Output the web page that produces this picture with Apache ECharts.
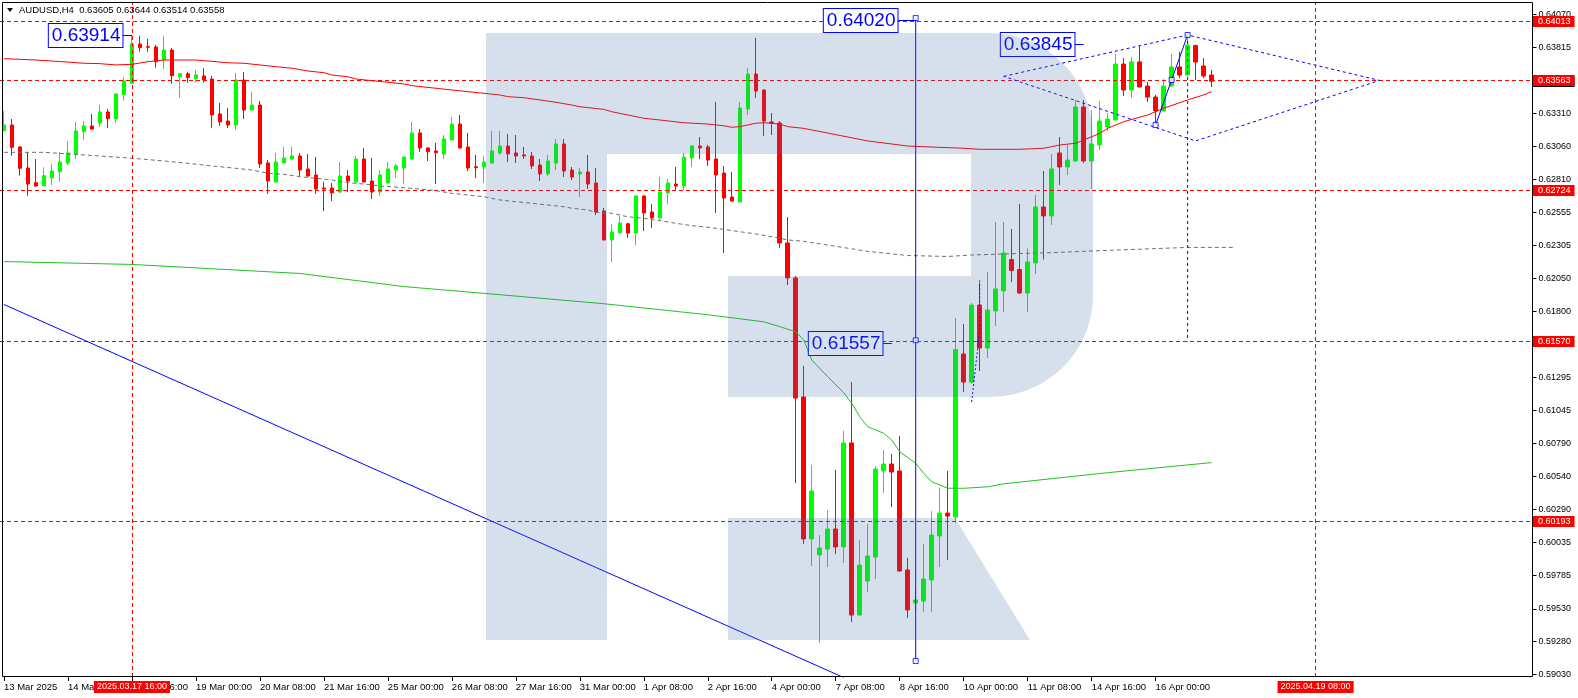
<!DOCTYPE html>
<html>
<head>
<meta charset="utf-8">
<script src="https://cdn.jsdelivr.net/npm/echarts@6/dist/echarts.min.js"></script>
<style>html,body{margin:0;padding:0;background:#fff;}#c{width:1578px;height:698px;}</style>
</head>
<body>
<div id="c"></div>
<script>
// ---------------- data ----------------
const symbolTitle = 'AUDUSD,H4';
const headerValues = ['0.63605', '0.63644', '0.63514', '0.63558'];

const tradingDays = ['2025-03-13','2025-03-14','2025-03-17','2025-03-18','2025-03-19','2025-03-20','2025-03-21',
  '2025-03-24','2025-03-25','2025-03-26','2025-03-27','2025-03-28','2025-03-31','2025-04-01','2025-04-02',
  '2025-04-03','2025-04-04','2025-04-07','2025-04-08','2025-04-09','2025-04-10','2025-04-11','2025-04-14',
  '2025-04-15','2025-04-16','2025-04-17'];
const barHours = [0, 4, 8, 12, 16, 20];

const open = [
0.63180,0.63224,0.63056,0.62895,0.62783,0.62760,0.62819,0.62867,0.62934,0.63005,
0.63173,0.63216,0.63239,0.63323,0.63270,0.63455,0.63542,0.63842,0.63822,0.63819,
0.63722,0.63796,0.63593,0.63615,0.63577,0.63598,0.63575,0.63308,0.63254,0.63224,
0.63567,0.63338,0.63376,0.62934,0.62788,0.62934,0.62964,0.62987,0.62888,0.62842,
0.62743,0.62743,0.62712,0.62834,0.62788,0.62964,0.62796,0.62712,0.62781,0.62880,
0.62895,0.62964,0.63163,0.63048,0.63025,0.63002,0.63109,0.63231,0.63056,0.62905,
0.62903,0.62934,0.63010,0.63063,0.63010,0.62995,0.62987,0.62918,0.62850,0.62934,
0.63079,0.62880,0.62850,0.62865,0.62781,0.62567,0.62346,0.62399,0.62470,0.62399,
0.62682,0.62559,0.62514,0.62705,0.62773,0.62758,0.62972,0.63063,0.63056,0.62964,
0.62857,0.62674,0.62636,0.63346,0.63613,0.63491,0.63247,0.63239,0.62323,0.62056,
0.61147,0.60063,0.59941,0.59986,0.60139,0.60002,0.60796,0.59482,0.59742,0.59925,
0.60582,0.60635,0.60582,0.59826,0.59574,0.59589,0.59750,0.60086,0.60261,0.60231,
0.61475,0.61261,0.61849,0.61521,0.61804,0.61957,0.62196,0.62120,0.61941,0.62170,
0.62598,0.62529,0.63010,0.62903,0.62949,0.63361,0.62949,0.63071,0.63208,0.63262,
0.63689,0.63491,0.63705,0.63521,0.63437,0.63331,0.63521,0.63667,0.63605,0.63830,
0.63674,0.63605];
const high = [
0.63331,0.63269,0.63063,0.63015,0.62964,0.62901,0.62926,0.63018,0.63102,0.63247,
0.63254,0.63308,0.63379,0.63346,0.63468,0.63590,0.63914,0.63903,0.63880,0.63834,
0.63903,0.63812,0.63620,0.63631,0.63644,0.63657,0.63598,0.63392,0.63353,0.63621,
0.63628,0.63476,0.63407,0.62956,0.63010,0.63056,0.63056,0.63010,0.63002,0.62979,
0.62789,0.62781,0.62941,0.62880,0.62987,0.63048,0.62972,0.62880,0.62941,0.62926,
0.62987,0.63247,0.63193,0.63056,0.63086,0.63147,0.63285,0.63300,0.63163,0.62995,
0.62987,0.63178,0.63178,0.63155,0.63147,0.63056,0.63018,0.62964,0.62995,0.63117,
0.63117,0.62903,0.62895,0.62995,0.62895,0.62590,0.62468,0.62529,0.62478,0.62685,
0.62685,0.62621,0.62827,0.62811,0.62903,0.63010,0.63071,0.63132,0.63071,0.63399,
0.62911,0.62865,0.63399,0.63659,0.63888,0.63494,0.63315,0.63254,0.62521,0.62071,
0.61384,0.60628,0.60093,0.60284,0.60590,0.60889,0.61261,0.60055,0.60177,0.60620,
0.60742,0.60712,0.60849,0.59918,0.59673,0.60025,0.60276,0.60456,0.60582,0.61750,
0.61704,0.61865,0.62017,0.62101,0.62483,0.62483,0.62430,0.62621,0.62285,0.62689,
0.62872,0.63002,0.63132,0.63071,0.63415,0.63415,0.63338,0.63407,0.63315,0.63766,
0.63735,0.63743,0.63827,0.63552,0.63453,0.63575,0.63766,0.63781,0.63911,0.63838,
0.63735,0.63644];
const low = [
0.63175,0.62989,0.62837,0.62684,0.62753,0.62753,0.62766,0.62791,0.62918,0.62964,
0.63109,0.63186,0.63208,0.63201,0.63239,0.63409,0.63535,0.63783,0.63783,0.63661,
0.63651,0.63539,0.63432,0.63547,0.63547,0.63547,0.63203,0.63216,0.63201,0.63186,
0.63269,0.63331,0.62895,0.62697,0.62785,0.62926,0.62956,0.62834,0.62827,0.62697,
0.62567,0.62643,0.62705,0.62712,0.62785,0.62785,0.62659,0.62682,0.62773,0.62819,
0.62773,0.62956,0.63018,0.62949,0.62773,0.62964,0.63105,0.63044,0.62872,0.62819,
0.62781,0.62926,0.62995,0.62941,0.62934,0.62964,0.62888,0.62796,0.62834,0.62880,
0.62827,0.62804,0.62674,0.62735,0.62536,0.62342,0.62178,0.62395,0.62361,0.62307,
0.62414,0.62437,0.62498,0.62621,0.62727,0.62727,0.62903,0.62964,0.62911,0.62552,
0.62246,0.62636,0.62633,0.63300,0.63430,0.63140,0.63147,0.62285,0.62002,0.60490,
0.60025,0.59857,0.59269,0.59849,0.59948,0.59880,0.59429,0.59478,0.59658,0.59757,
0.60414,0.60307,0.59814,0.59460,0.59505,0.59505,0.59505,0.59849,0.59902,0.60185,
0.61185,0.61250,0.61345,0.61445,0.61689,0.61794,0.62025,0.61933,0.61796,0.62086,
0.62196,0.62460,0.62766,0.62842,0.62945,0.62934,0.62735,0.63033,0.63178,0.63258,
0.63445,0.63430,0.63510,0.63399,0.63224,0.63327,0.63518,0.63582,0.63601,0.63567,
0.63582,0.63514];
const close = [
0.63224,0.63053,0.62893,0.62773,0.62758,0.62837,0.62872,0.62941,0.63010,0.63178,
0.63216,0.63193,0.63323,0.63272,0.63460,0.63560,0.63842,0.63814,0.63817,0.63707,
0.63796,0.63600,0.63615,0.63585,0.63605,0.63567,0.63300,0.63247,0.63224,0.63567,
0.63338,0.63376,0.62926,0.62796,0.62941,0.62972,0.62987,0.62880,0.62834,0.62735,
0.62735,0.62705,0.62834,0.62796,0.62964,0.62788,0.62712,0.62842,0.62888,0.62911,
0.62979,0.63163,0.63048,0.63020,0.63012,0.63117,0.63231,0.63048,0.62895,0.62898,
0.62941,0.63025,0.63063,0.63002,0.62987,0.62987,0.62911,0.62850,0.62949,0.63079,
0.62872,0.62827,0.62865,0.62773,0.62559,0.62346,0.62407,0.62475,0.62399,0.62682,
0.62552,0.62514,0.62712,0.62781,0.62758,0.62979,0.63063,0.63048,0.62956,0.62842,
0.62666,0.62643,0.63353,0.63613,0.63483,0.63254,0.63239,0.62323,0.62056,0.61139,
0.60063,0.60429,0.59994,0.60139,0.60002,0.60796,0.59482,0.59864,0.59933,0.60597,
0.60635,0.60574,0.59818,0.59521,0.59597,0.59757,0.60093,0.60261,0.60238,0.61509,
0.61261,0.61849,0.61521,0.61811,0.61972,0.62246,0.62112,0.61941,0.62178,0.62598,
0.62529,0.62888,0.62903,0.62956,0.63361,0.62949,0.63079,0.63254,0.63269,0.63689,
0.63491,0.63705,0.63514,0.63437,0.63331,0.63521,0.63667,0.63605,0.63834,0.63705,
0.63598,0.63558];

// moving averages: [bar index, price]
const maRed = [[0,0.63730],[2,0.63725],[4,0.63720],[6,0.63712],[8,0.63704],[10,0.63695],[12,0.63692],[14,0.63682],
  [16,0.63687],[18,0.63707],[20,0.63720],[24,0.63720],[28,0.63699],[30,0.63695],[32,0.63682],[34,0.63669],
  [36,0.63657],[38,0.63636],[40,0.63623],[41,0.63605],[43,0.63592],[44,0.63575],[46,0.63562],[48,0.63550],
  [50,0.63537],[51,0.63524],[56,0.63491],[62,0.63453],[63,0.63440],[65,0.63432],[67,0.63415],[69,0.63397],
  [71,0.63376],[72,0.63363],[75,0.63343],[76,0.63325],[78,0.63300],[80,0.63275],[82,0.63262],[85,0.63241],
  [88,0.63231],[90,0.63218],[91,0.63206],[92,0.63211],[93,0.63224],[94,0.63237],[95,0.63241],[97,0.63231],
  [98,0.63211],[100,0.63198],[108,0.63102],[113,0.63063],[117,0.63053],[120,0.63046],[122,0.63038],
  [127,0.63038],[130,0.63046],[131,0.63058],[132,0.63071],[134,0.63084],[135,0.63109],[136,0.63134],
  [137,0.63159],[138,0.63198],[140,0.63249],[143,0.63300],[145,0.63351],[148,0.63415],[150,0.63453],[151,0.63478]];
const maGray = [[0,0.63015],[5,0.63015],[10,0.62995],[16,0.62970],[20,0.62949],[23,0.62931],[26,0.62911],
  [29,0.62893],[31,0.62880],[33,0.62855],[35,0.62847],[37,0.62829],[39,0.62817],[41,0.62804],[43,0.62783],
  [45,0.62773],[47,0.62758],[50,0.62745],[52,0.62735],[54,0.62722],[56,0.62702],[58,0.62689],[60,0.62676],
  [61,0.62664],[62,0.62651],[64,0.62638],[66,0.62626],[68,0.62613],[70,0.62600],[71,0.62588],[73,0.62575],
  [74,0.62557],[76,0.62550],[78,0.62523],[80,0.62511],[82,0.62493],[84,0.62473],[86,0.62455],[88,0.62443],
  [90,0.62427],[92,0.62409],[94,0.62392],[96,0.62371],[98,0.62346],[100,0.62336],[108,0.62259],[113,0.62227],
  [118,0.62220],[121,0.62231],[125,0.62239],[131,0.62249],[137,0.62264],[148,0.62289],[154,0.62289]];
const maGreen = [[0,0.62181],[16,0.62159],[37,0.62090],[50,0.61990],[62,0.61928],[75,0.61859],[88,0.61775],
  [95,0.61721],[97,0.61684],[99,0.61645],[100,0.61582],[101,0.61429],[103,0.61302],[105,0.61180],[106,0.61099],
  [107,0.60997],[108,0.60920],[110,0.60870],[111,0.60819],[112,0.60729],[114,0.60641],[115,0.60564],
  [116,0.60500],[118,0.60450],[120,0.60450],[123,0.60461],[125,0.60484],[138,0.60569],[151,0.60646]];

// axis ticks
const yTickValues = [0.64070,0.63815,0.63565,0.63310,0.63060,0.62810,0.62555,0.62305,0.62050,0.61800,0.61550,
  0.61295,0.61045,0.60790,0.60540,0.60290,0.60035,0.59785,0.59530,0.59280,0.59030];
const xTickLabels = ['13 Mar 2025','14 Mar 08:00','17 Mar 16:00','19 Mar 00:00','20 Mar 08:00','21 Mar 16:00',
  '25 Mar 00:00','26 Mar 08:00','27 Mar 16:00','31 Mar 00:00','1 Apr 08:00','2 Apr 16:00','4 Apr 00:00',
  '7 Apr 08:00','8 Apr 16:00','10 Apr 00:00','11 Apr 08:00','14 Apr 16:00','16 Apr 00:00'];
const xTickEvery = 8;

// objects drawn on the chart
const levelLines = [0.64013, 0.63563, 0.62724, 0.61570, 0.60193];
const bidPrice = 0.63558;
const timeMarkers = ['2025.03.17 16:00', '2025.04.19 08:00'];
const trendLine = [[-0.5, 0.61853], [105, 0.59005]];
const verticalLine = [[114, 0.64040], [114, 0.59131]];
const verticalLineMid = [114, 0.61580];
const triangleLine = [[144, 0.63224], [148, 0.63911]];
const triangleMid = [146, 0.63567];
const dottedDrop = [[148, 0.63911], [148, 0.61570]];
const diamond = [[124.9, 0.63595], [148, 0.63911], [171.7, 0.63564], [148.7, 0.63102], [124.9, 0.63595]];
const smallDotted = [[120.7, 0.61109], [121.1, 0.61109], [121.7, 0.61658], [122.0, 0.62046], [122.4, 0.62046]];
const priceNotes = [
  {bar: 16, price: 0.63914, text: '0.63914', gap: 10},
  {bar: 114, price: 0.64025, text: '0.64020', gap: 19},
  {bar: 111, price: 0.61557, text: '0.61557', gap: 10},
  {bar: 135, price: 0.63845, text: '0.63845', gap: 10}
];

// ---------------- build ----------------
const totalSlots = 192;
const pad = n => String(n).padStart(2, '0');
const fmt = t => { const d = new Date(t); return d.getUTCFullYear() + '.' + pad(d.getUTCMonth() + 1) + '.' + pad(d.getUTCDate()) + ' ' + pad(d.getUTCHours()) + ':' + pad(d.getUTCMinutes()); };
let times = [];
tradingDays.forEach(ds => { const [y, m, d] = ds.split('-').map(Number); barHours.forEach(h => times.push(Date.UTC(y, m - 1, d, h))); });
times = times.slice(0, open.length);
while (times.length < totalSlots) times.push(times[times.length - 1] + 4 * 3600 * 1000);
const categories = times.map(fmt);
const candles = open.map((o, i) => [o, close[i], low[i], high[i]]);

const FONT = '"Liberation Sans",Arial,sans-serif';
const showTick = i => i % xTickEvery === 0 && i / xTickEvery < xTickLabels.length;

const levelStyle = {color: '#ff0000', type: [4, 3], width: 1, opacity: 1};
// price tags on the right: bid (black, underneath) then the red level lines
const priceTags = [{price: bidPrice, bg: '#000000', line: false}].concat(levelLines.map(v => ({price: v, bg: '#ff0000', line: true})));
const timeData = timeMarkers.map(s => ({
  xAxis: s, lineStyle: levelStyle,
  label: {position: 'start', distance: 4, formatter: s, backgroundColor: '#ff0000', color: '#ffffff',
    fontFamily: FONT, fontSize: 9, padding: [1, 3, 1, 3], lineHeight: 10}
}));

const blue = '#0000ff';
const lineSeries = (data, style, z) => ({type: 'line', data, showSymbol: false, symbol: 'none', silent: true,
  animation: false, z: z || 4, lineStyle: style, clip: true});

// watermark outline (pixel decoration)
function arcPts(cx, cy, rx, ry, a0, a1, n) {
  const pts = [];
  for (let k = 0; k <= n; k++) { const a = (a0 + (a1 - a0) * k / n) * Math.PI / 180; pts.push([cx + rx * Math.cos(a), cy + ry * Math.sin(a)]); }
  return pts;
}
const rShape = [[486, 33], [990, 33]]
  .concat(arcPts(990, 136, 103, 103, -90, 0, 14))
  .concat(arcPts(990, 296, 103, 101, 0, 90, 14))
  .concat([[728, 397], [728, 276], [971, 276], [971, 154], [607, 154], [607, 640], [486, 640]]);
const rLeg = [[728, 518], [955, 518], [1030, 640], [728, 640]];
const wmFill = 'rgba(69,114,169,0.22)';
const AXIS_SHIFT = 3;

const option = {
  animation: false,
  backgroundColor: '#ffffff',
  grid: {left: -0.5, top: 2, width: totalSlots * 8, height: 675, containLabel: false},
  xAxis: {
    type: 'category', data: categories, boundaryGap: true,
    axisLine: {show: false},
    axisTick: {show: true, alignWithLabel: true, interval: showTick, length: 4, lineStyle: {color: '#000'}},
    axisLabel: {interval: showTick, align: 'left', margin: 5, color: '#000', fontFamily: FONT, fontSize: 9.5,
      formatter: (v, i) => showTick(i) ? xTickLabels[i / xTickEvery] : ''},
    splitLine: {show: false}
  },
  yAxis: {
    type: 'value', position: 'right', offset: -AXIS_SHIFT,
    min: 0.5900910, max: 0.6416273,
    axisLine: {show: false},
    axisTick: {show: true, length: 4, customValues: yTickValues, lineStyle: {color: '#000'}},
    axisLabel: {customValues: yTickValues, margin: 6, color: '#000', fontFamily: FONT, fontSize: 9,
      formatter: v => Number(v).toFixed(5)},
    splitLine: {show: false}
  },
  series: [
    {
      type: 'candlestick', data: candles, barWidth: 4, z: 2, silent: true,
      itemStyle: {color: '#00ff00', color0: '#ff0000', borderColor: '#00ff00', borderColor0: '#ff0000', borderWidth: 1},
      markLine: {
        silent: true, animation: false, symbol: ['none', 'none'], precision: 5,
        lineStyle: levelStyle, emphasis: {disabled: true},
        data: timeData
      }
    },
    {
      type: 'custom', silent: true, animation: false, z: 3, clip: false,
      data: priceTags.map(t => [0, t.price]),
      renderItem: (params, api) => {
        const t = priceTags[params.dataIndex];
        const cs = params.coordSys;
        const p = api.coord([0, api.value(1)]);
        const y = Math.round(p[1] - 0.5) + 0.5;
        const xr = cs.x + cs.width - AXIS_SHIFT;
        const children = [];
        if (t.line) children.push({type: 'line', shape: {x1: cs.x, y1: y, x2: xr, y2: y},
          style: {stroke: '#ff0000', lineWidth: 1, lineDash: [4, 3]}});
        children.push({type: 'text', x: xr + 0.5, y: y, z2: 10, style: {text: api.value(1).toFixed(5), align: 'left',
          verticalAlign: 'middle', fill: '#ffffff', font: '9px ' + FONT, backgroundColor: t.bg,
          padding: [1, 4, 0, 5], lineHeight: 10}});
        return {type: 'group', children};
      }
    },
    lineSeries(maGray, {color: '#707070', width: 1, type: [4, 3]}, 3),
    lineSeries(maGreen, {color: '#22c322', width: 1}, 3),
    lineSeries(maRed, {color: '#ff0000', width: 1}, 3),
    lineSeries(trendLine, {color: blue, width: 1}),
    lineSeries(verticalLine, {color: blue, width: 1}),
    lineSeries(triangleLine, {color: blue, width: 1}),
    lineSeries(dottedDrop, {color: blue, width: 1, type: [3, 3]}),
    lineSeries(diamond, {color: blue, width: 1, type: [3, 3]}),
    lineSeries(smallDotted, {color: blue, width: 1, type: [2, 2]}),
    {
      type: 'scatter', silent: true, animation: false, z: 5, symbol: 'rect', symbolSize: 5,
      itemStyle: {color: '#ffffff', borderColor: blue, borderWidth: 1},
      data: verticalLine.concat([verticalLineMid]).concat(triangleLine).concat([triangleMid])
    },
    {
      type: 'custom', silent: true, animation: false, z: 6, clip: false,
      data: priceNotes.map(n => [n.bar, n.price]),
      renderItem: (params, api) => {
        const n = priceNotes[params.dataIndex];
        const p = api.coord([api.value(0), api.value(1)]);
        const y = Math.round(p[1]) + 0.5;
        const x0 = p[0] - n.gap;
        return {type: 'group', children: [
          {type: 'line', shape: {x1: x0, y1: y, x2: p[0], y2: y}, style: {stroke: blue, lineWidth: 1}},
          {type: 'text', x: Math.round(x0) + 0.5, y: y, style: {text: n.text, align: 'right', verticalAlign: 'middle',
            fill: blue, font: '19px "Liberation Sans", Arial, sans-serif', backgroundColor: '#ffffff',
            borderColor: blue, borderWidth: 1, padding: [3, 2, 1, 3]}}
        ]};
      }
    }
  ],
  graphic: [
    {type: 'polygon', silent: true, z: 100, shape: {points: rShape}, style: {fill: wmFill}},
    {type: 'polygon', silent: true, z: 100, shape: {points: rLeg}, style: {fill: wmFill}},
    {type: 'rect', silent: true, z: 101, shape: {x: 2.5, y: 2.5, width: 1530, height: 674},
      style: {fill: 'none', stroke: '#000', lineWidth: 1}},
    {type: 'polygon', silent: true, z: 101, shape: {points: [[7, 8], [13, 8], [10, 12]]}, style: {fill: '#000'}},
    {type: 'text', silent: true, z: 101, x: 19, y: 10,
      style: {text: symbolTitle + '  ' + headerValues.join(' '), fill: '#000', font: '9.5px ' + FONT, verticalAlign: 'middle'}}
  ]
};

const chart = echarts.init(document.getElementById('c'), null, {renderer: 'canvas', width: 1578, height: 698});
chart.setOption(option);
</script>
</body>
</html>
